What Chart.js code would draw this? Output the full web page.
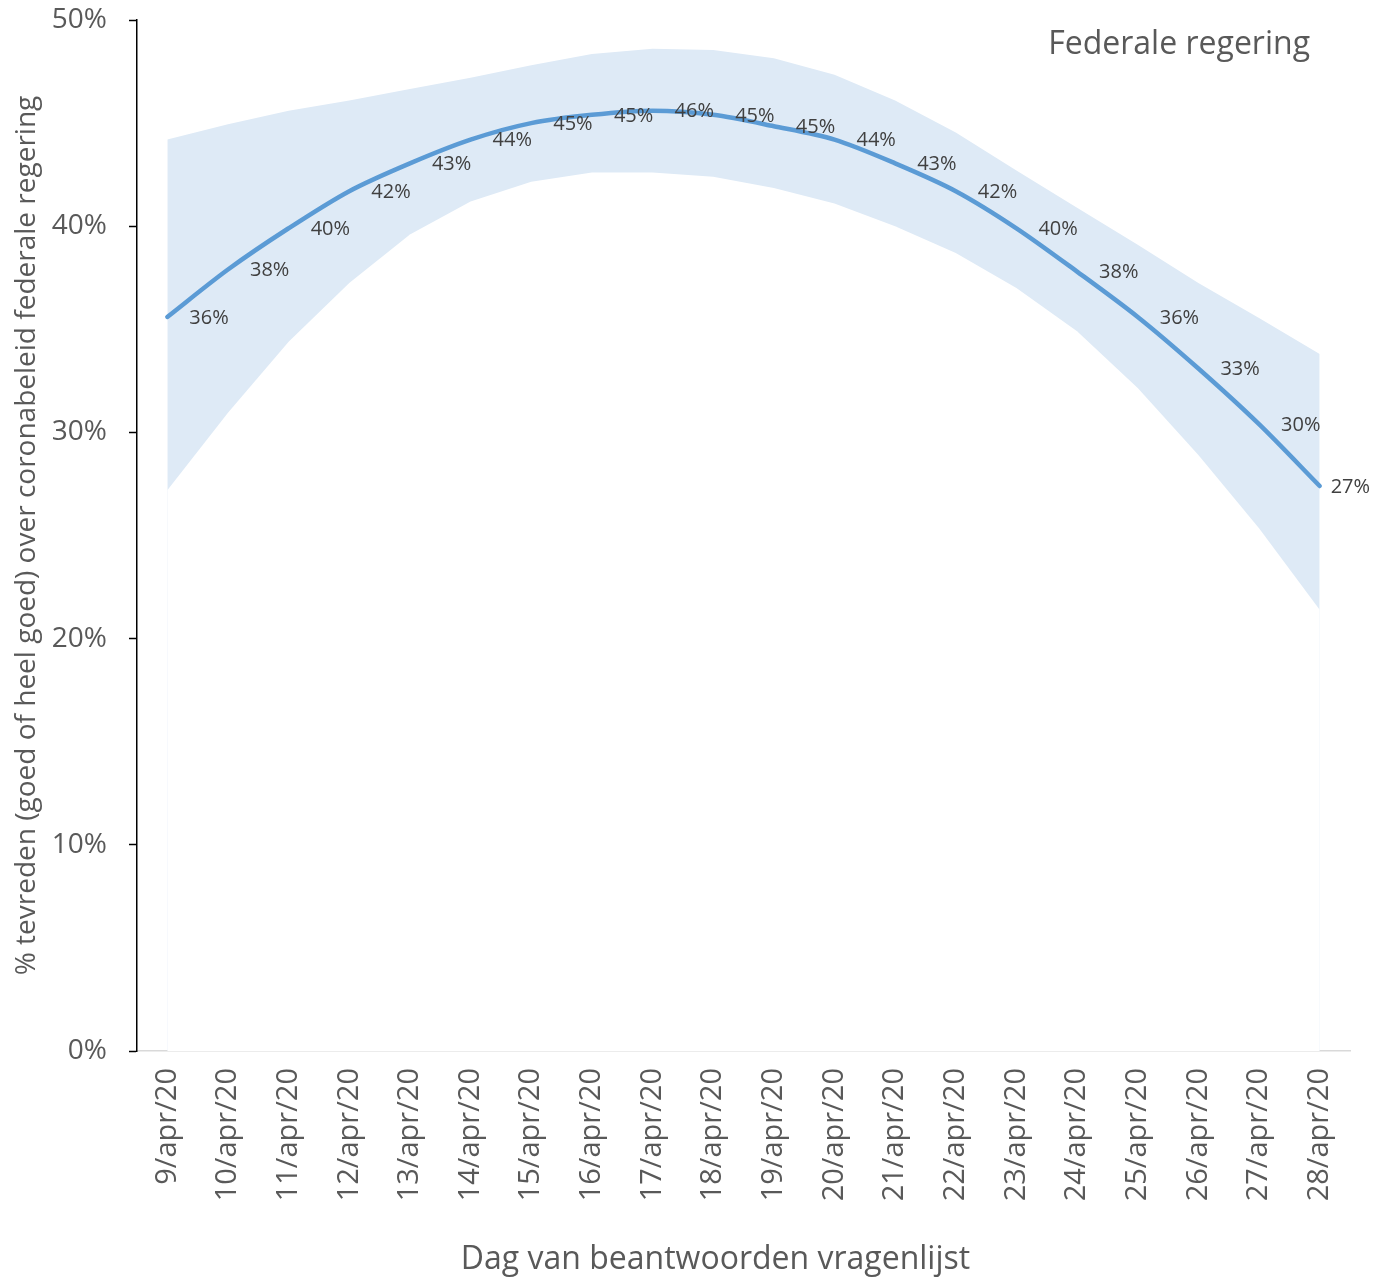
<!DOCTYPE html>
<html>
<head>
<meta charset="utf-8">
<script src="https://cdn.jsdelivr.net/npm/chart.js@4"></script>
<style>
  html, body { margin: 0; padding: 0; background: #ffffff; }
  #wrap { width: 1375px; height: 1280px; position: relative; }
</style>
</head>
<body>
<div id="wrap"><canvas id="c" width="1375" height="1280"></canvas></div>
<script>
const categories = ["9/apr/20","10/apr/20","11/apr/20","12/apr/20","13/apr/20","14/apr/20","15/apr/20","16/apr/20","17/apr/20","18/apr/20","19/apr/20","20/apr/20","21/apr/20","22/apr/20","23/apr/20","24/apr/20","25/apr/20","26/apr/20","27/apr/20","28/apr/20"];
const satisfied = [35.6, 37.9, 39.9, 41.7, 43.05, 44.2, 45.0, 45.4, 45.6, 45.4, 44.85, 44.2, 43.05, 41.7, 39.9, 37.8, 35.6, 33.1, 30.4, 27.4];
const upperBound = [44.2, 44.95, 45.6, 46.1, 46.65, 47.2, 47.8, 48.35, 48.6, 48.55, 48.15, 47.35, 46.1, 44.55, 42.7, 40.9, 39.1, 37.25, 35.55, 33.8];
const lowerBound = [27.2, 30.95, 34.4, 37.25, 39.6, 41.2, 42.15, 42.6, 42.6, 42.4, 41.85, 41.1, 40.0, 38.7, 37.0, 34.9, 32.15, 28.9, 25.35, 21.4];
const yTicks = [0, 10, 20, 30, 40, 50];
const chartTitle = "Federale regering";
const xTitle = "Dag van beantwoorden vragenlijst";
const yTitle = "% tevreden (goed of heel goed) over coronabeleid federale regering";

const FONT = "'Open Sans', 'DejaVu Sans', sans-serif";

const labelPlugin = {
  id: 'pointLabels',
  afterDatasetsDraw(chart) {
    const meta = chart.getDatasetMeta(0);
    const ctx = chart.ctx;
    ctx.save();
    ctx.font = "20px " + FONT;
    ctx.fillStyle = "#404040";
    ctx.textAlign = "left";
    ctx.textBaseline = "middle";
    const last = meta.data.length - 1;
    meta.data.forEach((pt, i) => {
      const v = satisfied[i];
      const off = (i === last) ? 11 : 22;
      ctx.fillText(Math.round(v) + "%", pt.x + off, pt.y + 1);
    });
    ctx.restore();
  }
};

const titlePlugin = {
  id: 'cornerTitle',
  afterDraw(chart) {
    const ctx = chart.ctx;
    const a = chart.chartArea;
    ctx.save();
    ctx.fillStyle = "#595959";
    ctx.textBaseline = "middle";
    ctx.font = "32px " + FONT;
    ctx.textAlign = "right";
    ctx.fillText(chartTitle, a.right - 40, a.top + 25);
    ctx.font = "32px " + FONT;
    ctx.textAlign = "center";
    ctx.fillText(xTitle, (a.left + a.right) / 2 - 28, chart.height - 20);
    ctx.restore();
  }
};

new Chart(document.getElementById('c'), {
  type: 'line',
  data: {
    labels: categories,
    datasets: [
      {
        label: 'tevreden',
        data: satisfied,
        borderColor: '#5B9BD5',
        borderWidth: 4.5,
        pointRadius: 0,
        tension: 0.3,
        fill: false,
        borderCapStyle: 'round'
      },
      {
        label: 'ondergrens',
        data: lowerBound,
        borderWidth: 0,
        borderColor: 'rgba(0,0,0,0)',
        pointRadius: 0,
        backgroundColor: '#ffffff',
        fill: 'origin'
      },
      {
        label: 'bovengrens',
        data: upperBound,
        borderWidth: 0,
        borderColor: 'rgba(0,0,0,0)',
        pointRadius: 0,
        backgroundColor: '#DEEAF6',
        fill: 'origin'
      }
    ]
  },
  options: {
    responsive: false,
    animation: false,
    devicePixelRatio: 1,
    layout: { padding: { left: 0, right: 25, top: 20, bottom: 0 } },
    plugins: {
      legend: { display: false },
      tooltip: { enabled: false },
      title: { display: false }
    },
    scales: {
      x: {
        type: 'category',
        offset: true,
        grid: { display: false, drawTicks: false },
        border: { display: true, color: '#D9D9D9', width: 1.5 },
        ticks: {
          minRotation: 90,
          maxRotation: 90,
          autoSkip: false,
          padding: 17,
          color: '#595959',
          font: { family: FONT, size: 29 }
        },
        title: { display: false },
        afterFit(scale) { scale.height = 229; scale.paddingLeft = 0; scale.paddingRight = 0; }
      },
      y: {
        min: 0,
        max: 50,
        afterBuildTicks(scale) { scale.ticks = yTicks.map(v => ({ value: v })); },
        grid: {
          drawOnChartArea: false,
          drawTicks: true,
          tickLength: 8,
          tickColor: '#000000',
          tickWidth: 1.5
        },
        border: { display: true, color: '#000000', width: 1.5 },
        ticks: {
          padding: 22,
          color: '#595959',
          font: { family: FONT, size: 28 },
          callback: (v) => v + '%'
        },
        title: {
          display: true,
          text: yTitle,
          color: '#595959',
          font: { family: FONT, size: 28 },
          padding: { top: 10, bottom: 0 }
        },
        afterFit(scale) { scale.width = 137; scale.paddingTop = 0; scale.paddingBottom = 0; }
      }
    }
  },
  plugins: [labelPlugin, titlePlugin]
});
</script>
</body>
</html>
